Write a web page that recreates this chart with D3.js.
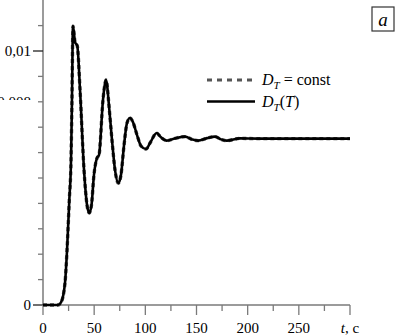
<!DOCTYPE html>
<html>
<head>
<meta charset="utf-8">
<script src="https://cdn.jsdelivr.net/npm/d3@7"></script>
<style>
  body { margin: 0; background: #fff; }
  text { font-family: 'Liberation Serif', 'DejaVu Serif', serif; }
</style>
</head>
<body>
<svg id="viz" width="397" height="336"></svg>
<script>
// time, s
const timeVals = [0, 10, 14.7, 17.6, 21.5, 23.5, 25.7, 27.4, 28.3, 29.3, 31.3, 33.5, 36.2, 40.1, 43, 45.2, 47.4, 49.8, 52.8, 54.7,
  58.6, 60.5, 61.5, 62.5, 64, 67.4, 70.4, 73.6, 76.2, 79.2, 82.1, 85, 87.9, 91.9, 95.8, 100.7, 104.6, 111.1, 115.3, 120.9, 129,
  138.8, 145.6, 151.5, 160.3, 168.1, 174, 179.5, 192.5, 210, 250, 300]
// D_T = const
const constVals = [0, 0, 0, 0.0001, 0.00087, 0.00217, 0.00413, 0.00571, 0.00807, 0.01098, 0.01035, 0.0102, 0.00846, 0.00531, 0.00394, 0.00362, 0.00394, 0.00512, 0.00579, 0.0059,
  0.00807, 0.0087, 0.00886, 0.0087, 0.00807, 0.0065, 0.00531, 0.0048, 0.00512, 0.0063, 0.00717, 0.00736, 0.0072, 0.00669, 0.00626, 0.00614, 0.00638, 0.00677, 0.0066, 0.00647, 0.00656,
  0.00663, 0.00652, 0.00647, 0.00657, 0.00663, 0.00652, 0.00647, 0.00656, 0.00655, 0.00655, 0.00655]
// D_T(T)
const varVals = [0, 0, 0, 0.0001, 0.00087, 0.00217, 0.00413, 0.00571, 0.00807, 0.01098, 0.01035, 0.0102, 0.00846, 0.00531, 0.00394, 0.00362, 0.00394, 0.00512, 0.00579, 0.0059,
  0.00807, 0.0087, 0.00886, 0.0087, 0.00807, 0.0065, 0.00531, 0.0048, 0.00512, 0.0063, 0.00717, 0.00736, 0.0072, 0.00669, 0.00626, 0.00614, 0.00638, 0.00677, 0.0066, 0.00647, 0.00656,
  0.00663, 0.00652, 0.00647, 0.00657, 0.00663, 0.00652, 0.00647, 0.00656, 0.00655, 0.00655, 0.00655]

const xTicks = [0, 25, 50, 75, 100, 125, 150, 175, 200, 225, 250, 275, 300]
const xLabels = ['0', '', '50', '', '100', '', '150', '', '200', '', '250', '', 't, c']
const yTicks = [0, 0.001, 0.002, 0.003, 0.004, 0.005, 0.006, 0.007, 0.008, 0.009, 0.01, 0.011]
const yLabels = {0: '0', 0.01: '0,01'}

const serif = "'Liberation Serif', 'DejaVu Serif', serif"
const svg = d3.select('#viz')
const axisColor = '#7a7a7a'

const x = d3.scaleLinear().domain([0, 300]).range([43, 350])
const y = d3.scaleLinear().domain([0, 0.012]).range([305, 0.2])

// y axis
let yAxis = svg.append('g')
yAxis.append('line')
  .attr('x1', x(0)).attr('x2', x(0))
  .attr('y1', 0).attr('y2', y(0))
  .attr('stroke', axisColor).attr('stroke-width', 1.5)
yAxis.selectAll('.ytick')
  .data(yTicks)
  .enter()
  .append('line')
  .attr('x1', d => (d === 0 || Math.abs(d - 0.01) < 1e-9) ? x(0) - 10 : x(0) - 5)
  .attr('x2', x(0))
  .attr('y1', d => y(d)).attr('y2', d => y(d))
  .attr('stroke', d => (d === 0 || Math.abs(d - 0.01) < 1e-9) ? '#222' : axisColor)
  .attr('stroke-width', 1.3)
yAxis.selectAll('.ylab')
  .data([0, 0.01])
  .enter()
  .append('text')
  .attr('x', 31)
  .attr('y', d => y(d) + 5)
  .attr('text-anchor', 'end')
  .attr('font-family', serif)
  .attr('font-size', 15)
  .text(d => yLabels[d])

// partially hidden label near 0.008
svg.append('clipPath').attr('id', 'cut')
  .append('rect').attr('x', 0).attr('y', 0).attr('width', 40).attr('height', 100)
svg.append('text')
  .attr('clip-path', 'url(#cut)')
  .attr('x', 31).attr('y', y(0.008) + 5)
  .attr('text-anchor', 'end')
  .attr('font-family', serif)
  .attr('font-size', 15)
  .text('0,008')

// x axis
let xAxis = svg.append('g')
xAxis.append('line')
  .attr('x1', x(0)).attr('x2', x(300))
  .attr('y1', y(0)).attr('y2', y(0))
  .attr('stroke', axisColor).attr('stroke-width', 1.5)
xAxis.selectAll('.xtick')
  .data(xTicks)
  .enter()
  .append('line')
  .attr('x1', d => x(d)).attr('x2', d => x(d))
  .attr('y1', y(0))
  .attr('y2', (d, i) => y(0) + (i % 2 === 0 ? 10 : 6))
  .attr('stroke', axisColor)
  .attr('stroke-width', 1.3)
xAxis.selectAll('.xlab')
  .data(xTicks)
  .enter()
  .append('text')
  .attr('x', d => x(d))
  .attr('y', 333)
  .attr('text-anchor', 'middle')
  .attr('font-family', serif)
  .attr('font-size', 15)
  .each(function (d, i) {
    let t = d3.select(this)
    if (d === 300) {
      t.append('tspan').attr('font-style', 'italic').text('t')
      t.append('tspan').text(', c')
    } else {
      t.text(xLabels[i])
    }
  })

// curves
const constData = timeVals.map((t, i) => [t, constVals[i]])
const varData = timeVals.map((t, i) => [t, varVals[i]])
const line = d3.line()
  .x(d => x(d[0]))
  .y(d => y(d[1]))
  .curve(d3.curveMonotoneX)

svg.append('path')
  .datum(constData)
  .attr('d', line)
  .attr('fill', 'none')
  .attr('stroke', '#555')
  .attr('stroke-width', 3.4)
  .attr('stroke-dasharray', '4,3')
svg.append('path')
  .datum(varData)
  .attr('d', line)
  .attr('fill', 'none')
  .attr('stroke', '#000')
  .attr('stroke-width', 2.6)
  .attr('stroke-linejoin', 'round')

// legend
let legend = svg.append('g')
legend.append('line')
  .attr('x1', 207).attr('x2', 253).attr('y1', 80).attr('y2', 80)
  .attr('stroke', '#555').attr('stroke-width', 3)
  .attr('stroke-dasharray', '5,5')
legend.append('line')
  .attr('x1', 207).attr('x2', 255).attr('y1', 101.5).attr('y2', 101.5)
  .attr('stroke', '#000').attr('stroke-width', 2.6)

let l1 = legend.append('text').attr('x', 262).attr('y', 85).attr('font-size', 16).attr('font-family', serif)
l1.append('tspan').attr('font-style', 'italic').text('D')
l1.append('tspan').attr('font-style', 'italic').attr('font-size', 11).attr('dy', 4).text('T')
l1.append('tspan').attr('dy', -4).text(' = const')

let l2 = legend.append('text').attr('x', 262).attr('y', 107).attr('font-size', 16).attr('font-family', serif)
l2.append('tspan').attr('font-style', 'italic').text('D')
l2.append('tspan').attr('font-style', 'italic').attr('font-size', 11).attr('dy', 4).text('T')
l2.append('tspan').attr('dy', -4).text('(')
l2.append('tspan').attr('font-style', 'italic').text('T')
l2.append('tspan').text(')')

// panel mark
svg.append('rect')
  .attr('x', 372).attr('y', 7).attr('width', 22).attr('height', 24)
  .attr('fill', 'none').attr('stroke', '#333').attr('stroke-width', 1.2)
svg.append('text')
  .attr('x', 383).attr('y', 26)
  .attr('text-anchor', 'middle')
  .attr('font-family', serif)
  .attr('font-size', 19)
  .attr('font-style', 'italic')
  .text('a')
</script>
</body>
</html>
